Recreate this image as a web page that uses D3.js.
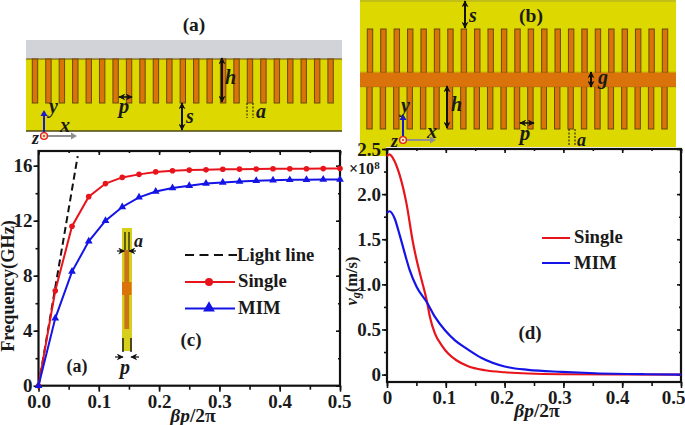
<!DOCTYPE html>
<html><head><meta charset="utf-8">
<script src="https://cdn.jsdelivr.net/npm/d3@7"></script>
<style>
html,body{margin:0;padding:0;background:#fff}
svg{display:block}
text{font-family:"Liberation Serif",serif;font-weight:bold;fill:#1a1a1a}
</style></head><body>
<script>
const betaF=[0,0.0278,0.0556,0.0833,0.1111,0.1389,0.1667,0.1944,0.2222,0.25,0.2778,0.3056,0.3333,0.3611,0.3889,0.4167,0.4444,0.4722,0.5];
const singleF=[0,6.9,11.6,13.75,14.7,15.15,15.37,15.55,15.63,15.68,15.7,15.74,15.75,15.76,15.78,15.78,15.78,15.79,15.8];
const mimF=[0,4.9,8.3,10.5,12.0,13.0,13.7,14.12,14.38,14.55,14.7,14.78,14.85,14.9,14.94,14.97,14.98,15.0,15.0];
const lightX=[0,0.065];
const lightY=[0,16.7];
const singleVx=[0,0.004,0.01,0.0216,0.033,0.044,0.0505,0.059,0.0675,0.073,0.0816,0.093,0.104,0.118,0.138,0.167,0.2,0.24,0.297,0.4,0.5];
const singleV=[2.42,2.44,2.40,2.21,1.9,1.47,1.267,1.045,0.824,0.639,0.454,0.325,0.233,0.159,0.092,0.048,0.026,0.012,0.004,0.001,0];
const mimVx=[0,0.0045,0.013,0.0216,0.0335,0.0386,0.0505,0.0675,0.0816,0.0986,0.1156,0.1355,0.161,0.2,0.24,0.297,0.354,0.44,0.5];
const mimV=[1.79,1.81,1.73,1.545,1.267,1.157,0.971,0.805,0.639,0.491,0.38,0.288,0.184,0.09,0.052,0.03,0.015,0.004,0];
const xTicksF=[0,0.1,0.2,0.3,0.4,0.5];
const xLabelsF=["0.0","0.1","0.2","0.3","0.4","0.5"];
const xLabelsV=["0","0.1","0.2","0.3","0.4","0.5"];
const yTicksF=[0,4,8,12,16];
const yTicksV=[0,0.5,1.0,1.5,2.0,2.5];
const yLabelsV=["0","0.5","1.0","1.5","2.0","2.5"];
const teeth=d3.range(23);

const RED="#e8141c",BLUE="#1414e6",YEL="#dcd800",ORG="#d9730a",EDGE="#6a4a06",INK="#111";
const svg=d3.select("body").append("svg").attr("width",685).attr("height",425);
const defs=svg.append("defs");
defs.append("marker").attr("id","ah").attr("viewBox","0 0 10 10").attr("refX",9).attr("refY",5)
 .attr("markerWidth",7).attr("markerHeight",7).attr("markerUnits","userSpaceOnUse").attr("orient","auto-start-reverse")
 .append("path").attr("d","M0,0L10,5L0,10L3,5Z").attr("fill",INK);
function rect(g,x,y,w,h,f,s,sw){return g.append("rect").attr("x",x).attr("y",y).attr("width",w).attr("height",h).attr("fill",f).attr("stroke",s||"none").attr("stroke-width",sw||0);}
function line(g,a,b,c,d,col,w,dash,arrows){const l=g.append("line").attr("x1",a).attr("y1",b).attr("x2",c).attr("y2",d).attr("stroke",col||INK).attr("stroke-width",w||2);
 if(dash)l.attr("stroke-dasharray",dash); if(arrows){l.attr("marker-start","url(#ah)").attr("marker-end","url(#ah)");} return l;}
function txt(g,x,y,s,size,o){o=o||{};const t=g.append("text").attr("x",x).attr("y",y).attr("font-size",size).text(s);
 if(o.anchor)t.attr("text-anchor",o.anchor); if(o.italic)t.style("font-style","italic"); return t;}
function triad(g,ox,oy,yt,xlabel,ylabel,zlabel){
 line(g,ox,oy,ox+27,oy,"#8f8f8f",2); g.append("path").attr("d",`M${ox+27},${oy-3.5}L${ox+33},${oy}L${ox+27},${oy+3.5}Z`).attr("fill","#8f8f8f");
 line(g,ox,oy,ox,yt+5,"#1a1acc",2); g.append("path").attr("d",`M${ox-3.5},${yt+6}L${ox},${yt}L${ox+3.5},${yt+6}Z`).attr("fill","#1a1acc");
 g.append("circle").attr("cx",ox).attr("cy",oy).attr("r",3.4).attr("fill","#f4e8c0").attr("stroke","#e0201c").attr("stroke-width",1.4);
 g.append("circle").attr("cx",ox).attr("cy",oy).attr("r",1).attr("fill","#e0201c");
 txt(g,xlabel[0],xlabel[1],"x",20,{italic:1}); txt(g,ylabel[0],ylabel[1],"y",20,{italic:1}); txt(g,zlabel[0],zlabel[1],"z",18,{italic:1});
}

// panel (a)
const pa=svg.append("g");
const xa=d3.scaleLinear().domain([0,22]).range([35,330.6]);
rect(pa,26,40,316,19,"#d1d3d9");
rect(pa,26,59,316,72,YEL);
line(pa,26,59,342,59,EDGE,1);
line(pa,26,131,342,131,"#4f4a10",1.4);
pa.selectAll(".t").data(teeth).join("rect").attr("x",d=>xa(d)-2.7).attr("y",59).attr("width",5.4).attr("height",44)
 .attr("fill",ORG).attr("stroke",EDGE).attr("stroke-width",1);
txt(pa,194,31,"(a)",19.5,{anchor:"middle"});
line(pa,222,58,222,102,INK,2,null,true);
txt(pa,225,84,"h",20,{italic:1});
line(pa,119,97,132,97,INK,1.6,null,true);
txt(pa,124,113,"p",21,{anchor:"middle",italic:1});
line(pa,182,103,182,130,INK,2,null,true);
txt(pa,186,123,"s",20,{italic:1});
line(pa,247,103,247,118,INK,1,"2,1.5");
line(pa,253,103,253,118,INK,1,"2,1.5");
txt(pa,256,118,"a",20,{italic:1});
triad(pa,44,136,110,[60,132],[49,113],[32,144]);

// panel (b)
const pb=svg.append("g");
const xb=d3.scaleLinear().domain([0,22]).range([370,665]);
rect(pb,360,0,316,147,YEL);
rect(pb,360,147,26,9,YEL);
line(pb,360,1,676,1,"#a8a830",1);
pb.selectAll(".u").data(teeth).join("rect").attr("x",d=>xb(d)-2.7).attr("y",29).attr("width",5.4).attr("height",44)
 .attr("fill",ORG).attr("stroke",EDGE).attr("stroke-width",1);
pb.selectAll(".l").data(teeth).join("rect").attr("x",d=>xb(d)-3.2).attr("y",86).attr("width",5.4).attr("height",43)
 .attr("fill",ORG).attr("stroke",EDGE).attr("stroke-width",1);
rect(pb,360,72.5,316,14.5,ORG);
line(pb,360,87,676,87,EDGE,.5).attr("stroke-opacity",.4);line(pb,360,72,676,72,EDGE,.5).attr("stroke-opacity",.4);
txt(pb,531,22,"(b)",19.5,{anchor:"middle"});
line(pb,465,1,465,28,INK,2,null,true);
txt(pb,469,22,"s",20,{italic:1});
line(pb,591,72,591,87,INK,2,null,true);
txt(pb,598,84,"g",20,{italic:1});
line(pb,447,86,447,128,INK,2,null,true);
txt(pb,451,111,"h",20,{italic:1});
line(pb,520,123,534,123,INK,1.6,null,true);
txt(pb,525,140,"p",21,{anchor:"middle",italic:1});
line(pb,569,129,569,146,INK,1,"2,1.5");
line(pb,575,129,575,146,INK,1,"2,1.5");
txt(pb,577,146,"a",18,{italic:1});
triad(pb,403,140,114,[427,138],[401,112],[391,147]);

// chart helper
function frame(x0,x1,yb,yt,xDomain,yDomain,xt,xl,yt2,yl,xMinor,yMinor,xShift){
 const g=svg.append("g");
 const x=d3.scaleLinear().domain(xDomain).range([x0,x1]);
 const y=d3.scaleLinear().domain(yDomain).range([yb,yt]);
 rect(g,x0,yt,x1-x0,yb-yt,"#fff");
 const fmtX=d=>xl[xt.indexOf(d)], fmtY=d=>yl[yt2.indexOf(d)];
 const sty=a=>{a.selectAll("path").remove();a.selectAll("line").attr("stroke",INK).attr("stroke-width",1.6);
   a.selectAll("text").attr("font-size",19).attr("fill","#1a1a1a");};
 g.append("g").attr("transform",`translate(0,${yb})`).call(d3.axisBottom(x).tickValues(xMinor).tickSize(4).tickFormat("")).call(sty);
 g.append("g").attr("transform",`translate(0,${yb})`).call(d3.axisBottom(x).tickValues(xt).tickSize(6).tickPadding(3).tickFormat(fmtX)).call(sty)
   .selectAll("text").attr("dx",(d,i)=>xShift[i]);
 g.append("g").attr("transform",`translate(${x0},0)`).call(d3.axisLeft(y).tickValues(yMinor).tickSize(3).tickFormat("")).call(sty);
 g.append("g").attr("transform",`translate(${x0},0)`).call(d3.axisLeft(y).tickValues(yt2).tickSize(5).tickPadding(1).tickFormat(fmtY)).call(sty);
 g.append("g").attr("transform",`translate(0,${yt})`).call(d3.axisBottom(x).tickValues(xMinor).tickSize(2).tickFormat("")).call(sty);
 g.append("g").attr("transform",`translate(0,${yt})`).call(d3.axisBottom(x).tickValues(xt).tickSize(4).tickFormat("")).call(sty);
 g.append("g").attr("transform",`translate(${x1},0)`).call(d3.axisLeft(y).tickValues(yMinor).tickSize(2).tickFormat("")).call(sty);
 g.append("g").attr("transform",`translate(${x1},0)`).call(d3.axisLeft(y).tickValues(yt2).tickSize(4).tickFormat("")).call(sty);
 rect(g,x0,yt,x1-x0,yb-yt,"none",INK,2.2);
 const plot=svg.append("g");
 return {x,y,plot,g};
}
const lineGen=(x,y)=>d3.line().x(d=>x(d[0])).y(d=>y(d[1]));

// chart (c)
const fMinorX=d3.range(0,0.5001,0.05).map(d=>+d.toFixed(2));
const c=frame(38.5,340,385.7,151,[0,0.5],[0,17.07],xTicksF,xLabelsF,yTicksF,yTicksF.map(String),fMinorX,d3.range(0,17,2),[0,0,0,0,0,-1]);
const lc=lineGen(c.x,c.y);
c.plot.append("path").attr("d",lc(lightX.map((d,i)=>[d,lightY[i]]))).attr("fill","none").attr("stroke",INK).attr("stroke-width",2).attr("stroke-dasharray","7,4");
const sF=betaF.map((d,i)=>[d,singleF[i]]), mF=betaF.map((d,i)=>[d,mimF[i]]);
c.plot.append("path").attr("d",lc(sF)).attr("fill","none").attr("stroke",RED).attr("stroke-width",2);
c.plot.selectAll(".sp").data(sF).join("circle").attr("cx",d=>c.x(d[0])).attr("cy",d=>c.y(d[1])).attr("r",2.8).attr("fill",RED);
c.plot.append("path").attr("d",lc(mF)).attr("fill","none").attr("stroke",BLUE).attr("stroke-width",2);
const tri=d3.symbol().type(d3.symbolTriangle).size(26);
c.plot.selectAll(".mp").data(mF).join("path").attr("d",tri).attr("transform",d=>`translate(${c.x(d[0])},${c.y(d[1])})`).attr("fill",BLUE);
// legend (c)
line(svg,185,255,237,255,INK,2,"9,5.5");
txt(svg,237,261,"Light line",18.7);
line(svg,185,282,235,282,RED,2);
svg.append("circle").attr("cx",209).attr("cy",282).attr("r",4).attr("fill",RED);
txt(svg,238,287,"Single",18.7);
line(svg,185,308.5,235,308.5,BLUE,2);
svg.append("path").attr("d",d3.symbol().type(d3.symbolTriangle).size(60)).attr("transform","translate(209,308)").attr("fill",BLUE);
txt(svg,238,314,"MIM",18.7);
txt(svg,77,372,"(a)",18,{anchor:"middle"});
txt(svg,191,346,"(c)",19,{anchor:"middle"});
// inset
const ins=svg.append("g");
rect(ins,122,228,10,123,"#d8cf1c");
rect(ins,124.3,250,4.8,79,"#c8741a");
rect(ins,122,282,9.5,13,ORG);
line(ins,125,232,125,250,INK,1.2);line(ins,129,232,129,250,INK,1.2);
line(ins,117,251,124.5,251,INK,1.2).attr("marker-end","url(#ah)");
line(ins,136,251,129,251,INK,1.2).attr("marker-end","url(#ah)");
txt(ins,134,247,"a",18,{italic:1});
line(ins,123,338,123,352,INK,1.4);line(ins,131,338,131,352,INK,1.4);
line(ins,115,357,123,357,INK,1.2).attr("marker-end","url(#ah)");
line(ins,139,357,131,357,INK,1.2).attr("marker-end","url(#ah)");
txt(ins,125,374,"p",20,{anchor:"middle",italic:1});
// axis titles (c)
svg.append("text").attr("transform","translate(14,286) rotate(-90)").attr("text-anchor","middle").attr("font-size",18.3).text("Frequency(GHz)");
function betaLabel(cx,y){const t=svg.append("text").attr("x",cx).attr("y",y).attr("text-anchor","middle").attr("font-size",19.5);
 t.append("tspan").style("font-style","italic").text("βp");t.append("tspan").text("/2π");}
betaLabel(193,422);

// chart (d)
const vMinorX=d3.range(0,0.5001,0.05).map(d=>+d.toFixed(2));
const d=frame(387,681,382,149,[0,0.5],[-0.082,2.5],xTicksF,xLabelsV,yTicksV,yLabelsV,vMinorX,d3.range(0,2.51,0.25),[0,-2,-3,-4,-5,-8]);
const ld=d3.line().x(p=>d.x(p[0])).y(p=>d.y(p[1])).curve(d3.curveMonotoneX);
d.plot.append("path").attr("d",ld(singleVx.map((v,i)=>[v,singleV[i]]))).attr("fill","none").attr("stroke",RED).attr("stroke-width",2.2);
d.plot.append("path").attr("d",ld(mimVx.map((v,i)=>[v,mimV[i]]))).attr("fill","none").attr("stroke",BLUE).attr("stroke-width",2.2);
line(svg,542,238,570,238,RED,2);
txt(svg,574,243,"Single",18.7);
line(svg,542,263,570,263,BLUE,2);
txt(svg,574,269,"MIM",18.7);
txt(svg,530,339,"(d)",19,{anchor:"middle"});
const ex=svg.append("text").attr("x",349).attr("y",174).attr("font-size",16);
ex.append("tspan").text("×10");ex.append("tspan").attr("font-size",11).attr("dy",-5).text("8");
const vt=svg.append("text").attr("transform","translate(357,281) rotate(-90)").attr("text-anchor","middle").attr("font-size",16.5);
vt.append("tspan").style("font-style","italic").text("v");
vt.append("tspan").style("font-style","italic").attr("font-size",12).attr("dy",3).text("g");
vt.append("tspan").attr("dy",-3).text("(m/s)");
betaLabel(537,417);
</script>
</body></html>
